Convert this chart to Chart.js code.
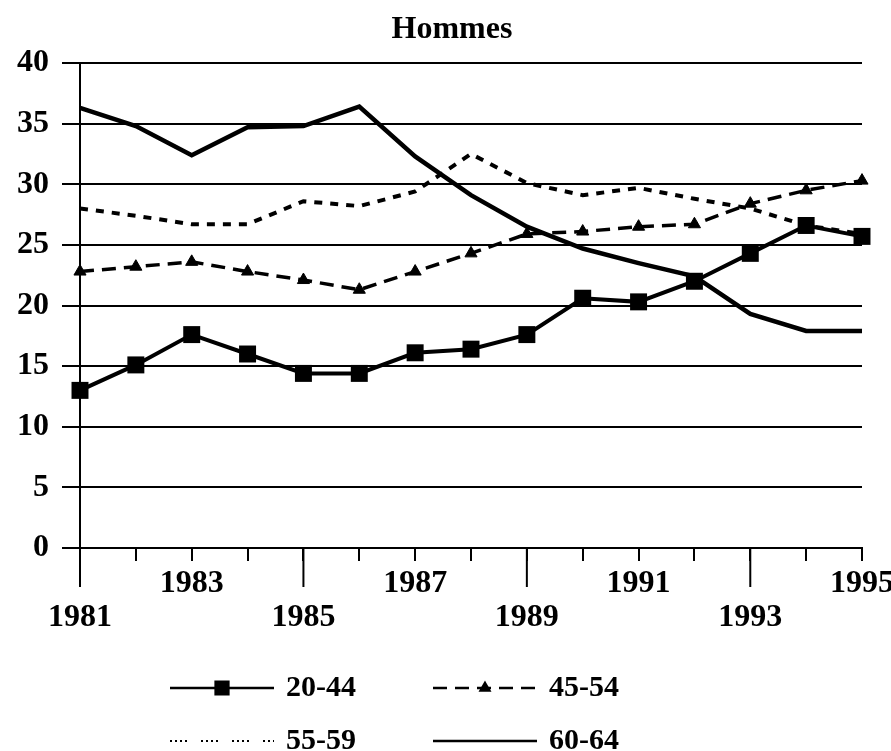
<!DOCTYPE html>
<html>
<head>
<meta charset="utf-8">
<script src="https://cdn.jsdelivr.net/npm/chart.js@4"></script>
<style>
  html, body { margin: 0; padding: 0; background: #fff; }
  canvas { display: block; }
</style>
</head>
<body>
<canvas id="chart" width="891" height="751"></canvas>
<script>
// Données
const years = ['1981','1982','1983','1984','1985','1986','1987','1988','1989','1990','1991','1992','1993','1994','1995'];
const ages2044 = [13.0, 15.1, 17.6, 16.0, 14.4, 14.4, 16.1, 16.4, 17.6, 20.6, 20.3, 22.0, 24.3, 26.6, 25.7];
const ages4554 = [22.8, 23.2, 23.6, 22.8, 22.1, 21.3, 22.8, 24.3, 25.9, 26.1, 26.5, 26.7, 28.4, 29.5, 30.3];
const ages5559 = [28.0, 27.4, 26.7, 26.7, 28.6, 28.2, 29.4, 32.5, 30.1, 29.1, 29.7, 28.8, 28.0, 26.6, 25.9];
const ages6064 = [36.3, 34.8, 32.4, 34.7, 34.8, 36.4, 32.3, 29.1, 26.5, 24.7, 23.5, 22.4, 19.3, 17.9, 17.9];
const yTicks = [0, 5, 10, 15, 20, 25, 30, 35, 40];
const upperYears = ['1983', '1987', '1991', '1995'];
const lowerYears = ['1981', '1985', '1989', '1993'];
const chartTitle = 'Hommes';

const serif = "'Liberation Serif', 'DejaVu Serif', serif";

// Titre dessiné à la main (décalé vers la droite comme l'original)
const titlePlugin = {
  id: 'titlePlugin',
  afterDraw(chart) {
    const ctx = chart.ctx;
    ctx.save();
    ctx.fillStyle = '#000';
    ctx.font = 'bold 32px ' + serif;
    ctx.textAlign = 'center';
    ctx.textBaseline = 'middle';
    ctx.fillText(chartTitle, 452, 30);
    ctx.restore();
  }
};

// Grands traits sous l'axe pour les années de la rangée du bas
const longTicks = {
  id: 'longTicks',
  afterDraw(chart) {
    const ctx = chart.ctx;
    const x = chart.scales.x;
    const bottom = chart.chartArea.bottom;
    ctx.save();
    ctx.strokeStyle = '#000';
    ctx.lineWidth = 2;
    lowerYears.forEach(y => {
      const px = x.getPixelForValue(years.indexOf(y));
      ctx.beginPath();
      ctx.moveTo(px, bottom);
      ctx.lineTo(px, bottom + 39);
      ctx.stroke();
    });
    ctx.restore();
  }
};

// Légende dessinée à la main (traits + marqueurs)
const customLegend = {
  id: 'customLegend',
  afterDraw(chart) {
    const ctx = chart.ctx;
    const spots = [
      { x: 170, y: 688 }, { x: 433, y: 688 },
      { x: 170, y: 741 }, { x: 433, y: 741 }
    ];
    ctx.save();
    chart.data.datasets.forEach((ds, i) => {
      const s = spots[i];
      ctx.strokeStyle = '#000';
      ctx.fillStyle = '#000';
      ctx.lineWidth = i === 2 ? 2 : 2.5;
      ctx.setLineDash(ds.legendDash || []);
      ctx.beginPath();
      ctx.moveTo(s.x, s.y);
      ctx.lineTo(s.x + 104, s.y);
      ctx.stroke();
      ctx.setLineDash([]);
      if (ds.pointRadius > 0) {
        Chart.helpers.drawPoint(ctx, {
          pointStyle: ds.pointStyle,
          radius: ds.pointStyle === 'rect' ? 9 : 5,
          borderWidth: 1,
          rotation: 0
        }, s.x + 52, s.y);
        ctx.fill();
      }
      ctx.font = 'bold 30px ' + serif;
      ctx.textBaseline = 'middle';
      ctx.textAlign = 'left';
      ctx.fillText(ds.label, s.x + 116, s.y);
    });
    ctx.restore();
  }
};

const ctx = document.getElementById('chart').getContext('2d');
new Chart(ctx, {
  type: 'line',
  data: {
    labels: years,
    datasets: [
      {
        label: '20-44',
        data: ages2044,
        borderColor: '#000',
        backgroundColor: '#000',
        borderWidth: 4,
        pointStyle: 'rect',
        pointRadius: 12,
        pointBorderWidth: 0,
        legendDash: []
      },
      {
        label: '45-54',
        data: ages4554,
        borderColor: '#000',
        backgroundColor: '#000',
        borderWidth: 3.5,
        borderDash: [14, 8],
        pointStyle: 'triangle',
        pointRadius: 7,
        pointBorderWidth: 1,
        legendDash: [14, 8]
      },
      {
        label: '55-59',
        data: ages5559,
        borderColor: '#000',
        borderWidth: 4,
        borderDash: [8, 8],
        pointRadius: 0,
        legendDash: [2, 3, 2, 3, 2, 3, 2, 14]
      },
      {
        label: '60-64',
        data: ages6064,
        borderColor: '#000',
        borderWidth: 4.5,
        pointRadius: 0,
        legendDash: []
      }
    ]
  },
  options: {
    responsive: false,
    animation: false,
    events: [],
    layout: { padding: { left: 0, right: 29, top: 63, bottom: 123 } },
    elements: { line: { tension: 0, borderCapStyle: 'butt' } },
    plugins: {
      legend: { display: false },
      tooltip: { enabled: false },
      title: { display: false }
    },
    scales: {
      x: {
        type: 'category',
        offset: false,
        grid: {
          drawOnChartArea: false,
          drawTicks: true,
          tickLength: 13,
          color: '#000',
          lineWidth: 2
        },
        border: { display: true, color: '#000', width: 2 },
        ticks: {
          autoSkip: false,
          maxRotation: 0,
          minRotation: 0,
          padding: 6,
          color: '#000',
          font: { family: serif, size: 32, weight: 'bold', lineHeight: 1.06 },
          callback: function (value) {
            const lab = years[value];
            if (upperYears.includes(lab)) return [lab];
            if (lowerYears.includes(lab)) return ['', lab];
            return '';
          }
        },
        afterFit(scale) {
          scale.height = 80;
          scale.paddingLeft = 0;
          scale.paddingRight = 0;
        }
      },
      y: {
        min: 0,
        max: 40,
        afterBuildTicks(scale) {
          scale.ticks = yTicks.map(v => ({ value: v }));
        },
        grid: {
          color: '#000',
          lineWidth: 2,
          drawTicks: true,
          tickLength: 18
        },
        border: { display: true, color: '#000', width: 2 },
        ticks: {
          padding: 13,
          color: '#000',
          font: { family: serif, size: 32, weight: 'bold' }
        },
        afterFit(scale) {
          scale.width = 80;
          scale.paddingTop = 0;
          scale.paddingBottom = 0;
        }
      }
    }
  },
  plugins: [titlePlugin, longTicks, customLegend]
});
</script>
</body>
</html>
